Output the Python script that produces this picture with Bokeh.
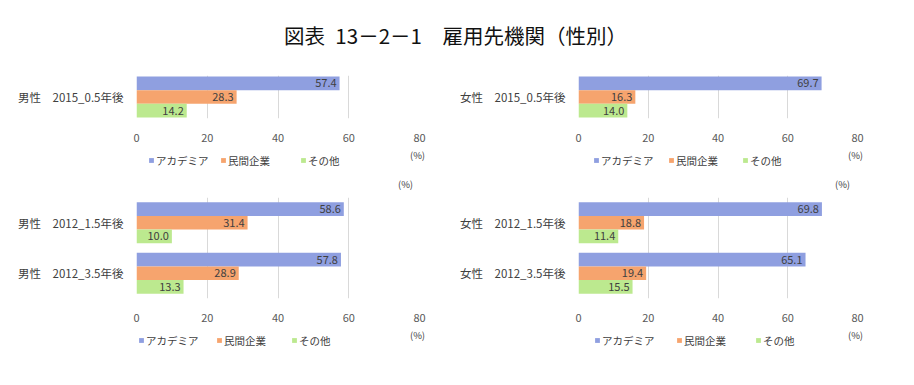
from bokeh.plotting import figure
from bokeh.models import (FactorRange, Range1d, Label, Legend, LegendItem,
                          ColumnDataSource, FixedTicker)
from bokeh.transform import dodge
from bokeh.layouts import column, row
from bokeh.embed import file_html
from bokeh.resources import INLINE
from bokeh.core.properties import value

TITLE = "図表\u200213－2－1　雇用先機関（性別）"
SERIES = ["アカデミア", "民間企業", "その他"]
X_TICKS = [0, 20, 40, 60, 80]
UNIT = "(%)"

male_2015_cats = ["男性　2015_0.5年後"]
male_2015_academia = [57.4]
male_2015_private = [28.3]
male_2015_other = [14.2]

female_2015_cats = ["女性　2015_0.5年後"]
female_2015_academia = [69.7]
female_2015_private = [16.3]
female_2015_other = [14.0]

male_2012_cats = ["男性　2012_1.5年後", "男性　2012_3.5年後"]
male_2012_academia = [58.6, 57.8]
male_2012_private = [31.4, 28.9]
male_2012_other = [10.0, 13.3]

female_2012_cats = ["女性　2012_1.5年後", "女性　2012_3.5年後"]
female_2012_academia = [69.8, 65.1]
female_2012_private = [18.8, 19.4]
female_2012_other = [11.4, 15.5]

COLORS = ["#8F9FE0", "#F6A46E", "#BCE98F"]
FONT = "Noto Sans CJK JP"
TXT = "#404040"
TICK = "#595959"


def blank(fig):
    fig.axis.visible = False
    fig.grid.visible = False
    fig.outline_line_color = None


def make_chart(cats, series_vals, width, height, b_left, b_right, b_top, frame_h):
    p = figure(width=width, height=height,
               y_range=FactorRange(factors=list(reversed(cats))),
               x_range=Range1d(0, 80), output_backend="svg", toolbar_location=None,
               min_border_left=b_left, min_border_right=b_right,
               min_border_top=b_top, min_border_bottom=height - b_top - frame_h)
    p.outline_line_color = None
    band_px = frame_h / len(cats)
    h = 13.6 / band_px
    offsets = [h, 0, -h]
    for vals, col, off in zip(series_vals, COLORS, offsets):
        src = ColumnDataSource(dict(cat=cats, val=vals, lbl=[f"{v:.1f}" for v in vals]))
        p.hbar(y=dodge("cat", off, range=p.y_range), right="val", left=0,
               height=h, fill_color=col, line_color=None, source=src)
        p.text(x="val", y=dodge("cat", off, range=p.y_range), text="lbl",
               x_offset=-3, text_align="right", text_baseline="middle",
               text_font=value(FONT), text_font_size="11px", text_color=TXT,
               source=src)

    p.xaxis.ticker = FixedTicker(ticks=X_TICKS)
    p.xaxis.axis_line_color = None
    p.xaxis.major_tick_line_color = None
    p.xaxis.major_tick_out = 0
    p.xaxis.major_tick_in = 0
    p.xaxis.minor_tick_line_color = None
    p.xaxis.major_label_standoff = 15
    p.xaxis.axis_label_standoff = 0
    p.xaxis.major_label_text_font = FONT
    p.xaxis.major_label_text_font_size = "11px"
    p.xaxis.major_label_text_color = TICK

    p.yaxis.axis_line_color = None
    p.yaxis.major_tick_line_color = None
    p.yaxis.major_tick_out = 0
    p.yaxis.major_tick_in = 0
    p.yaxis.major_label_standoff = 13
    p.yaxis.axis_label_standoff = 0
    p.yaxis.major_label_text_font = FONT
    p.yaxis.major_label_text_font_size = "11.5px"
    p.yaxis.major_label_text_color = TXT

    p.xgrid.grid_line_color = "#D9D9D9"
    p.ygrid.visible = False
    return p


def make_footer(width, height, leg_xs, leg_y, unit_x, unit_y, stray=None):
    f = figure(width=width, height=height, x_range=Range1d(0, 1), y_range=Range1d(0, 1),
               output_backend="svg", toolbar_location=None, min_border=0)
    blank(f)
    for name, col, lx in zip(SERIES, COLORS, leg_xs):
        # legend-key renderer kept outside the visible range (only its key is shown)
        key_src = ColumnDataSource(dict(y=[-5.0], r=[0.5]))
        r = f.hbar(y="y", right="r", left=0, height=0.1, fill_color=col,
                   line_color=None, source=key_src)
        f.add_layout(Legend(items=[LegendItem(label=name, renderers=[r], index=0)],
                            location=(lx, leg_y), orientation="horizontal",
                            padding=0, margin=0, spacing=0, glyph_width=6,
                            glyph_height=6, label_standoff=2, label_height=12,
                            label_text_font=FONT, label_text_font_size="10.5px",
                            label_text_color=TXT, border_line_alpha=0,
                            background_fill_alpha=0))
    f.add_layout(Label(x=unit_x, y=unit_y, x_units="screen", y_units="screen",
                       text=UNIT, text_align="center", text_baseline="middle",
                       text_font=FONT, text_font_size="9.5px", text_color=TXT))
    if stray is not None:
        f.add_layout(Label(x=stray[0], y=stray[1], x_units="screen", y_units="screen",
                           text=UNIT, text_align="center", text_baseline="middle",
                           text_font=FONT, text_font_size="9.5px", text_color=TXT))
    return f


t = figure(width=906, height=60, x_range=Range1d(0, 1), y_range=Range1d(0, 1),
           output_backend="svg", toolbar_location=None, min_border=0)
blank(t)
t.add_layout(Label(x=455, y=26, x_units="screen", y_units="screen", text=TITLE,
                   text_align="center", text_baseline="middle", text_font=FONT,
                   text_font_size="20.5px", text_color="#111111"))

tl = make_chart(male_2015_cats, [male_2015_academia, male_2015_private, male_2015_other],
                457, 88, 136, 38, 15, 43)
tr = make_chart(female_2015_cats, [female_2015_academia, female_2015_private, female_2015_other],
                449, 88, 116, 49, 15, 43)
tlf = make_footer(457, 44, [148, 220, 300], 24.5, 417, 38, (405, 9))
trf = make_footer(449, 44, [136, 211, 285], 24.5, 398, 38, (385, 9))

bl = make_chart(male_2012_cats, [male_2012_academia, male_2012_private, male_2012_other],
                457, 136, 136, 38, 5, 101)
br = make_chart(female_2012_cats, [female_2012_academia, female_2012_private, female_2012_other],
                449, 136, 116, 49, 5, 101)
blf = make_footer(457, 32, [138, 216, 291], 12.5, 417, 26)
brf = make_footer(449, 32, [137, 219, 298], 12.5, 398, 26)

layout = column(t, row(tl, tr), row(tlf, trf), row(bl, br), row(blf, brf))
open("out.html", "w").write(file_html(layout, INLINE))
